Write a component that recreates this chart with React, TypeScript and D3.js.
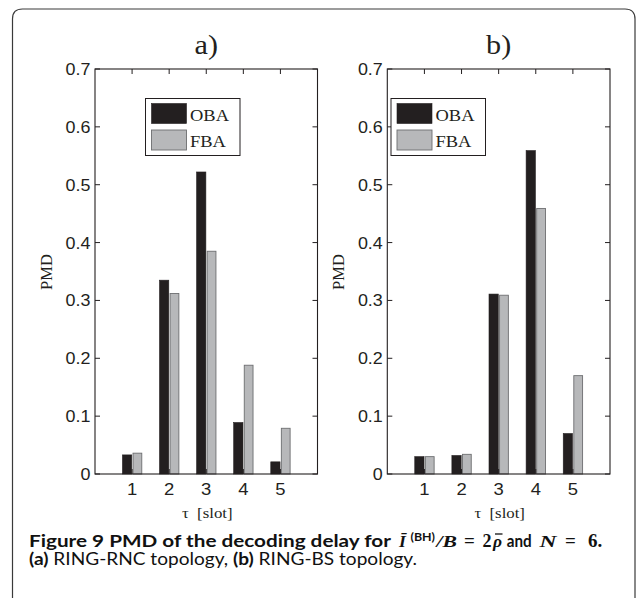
import React from "react";
import * as d3 from "d3";

const categories = [1, 2, 3, 4, 5];
const obaA = [0.033, 0.335, 0.522, 0.089, 0.021];
const fbaA = [0.036, 0.312, 0.385, 0.188, 0.079];
const obaB = [0.030, 0.032, 0.311, 0.559, 0.070];
const fbaB = [0.030, 0.034, 0.309, 0.459, 0.170];
const yTicks = [0, 0.1, 0.2, 0.3, 0.4, 0.5, 0.6, 0.7];
const yTickLabels = ["0", "0.1", "0.2", "0.3", "0.4", "0.5", "0.6", "0.7"];
const seriesNames = ["OBA", "FBA"];
const panelTitles = ["a)", "b)"];

const W = 637;
const H = 598;
const SX = 1.12;
const DARK = "#231f20";
const GREY = "#b7b8ba";
const GREY_STROKE = "#6d6e70";
const SERIF = "'Liberation Serif', 'Times New Roman', serif";
const SANS = "'Liberation Sans', Arial, sans-serif";
const CAP = "Lato, 'Open Sans', sans-serif";

function STxt(props: any) {
  const { x, y, anchor, size, family, children, weight, fill } = props;
  return (
    <text
      transform={`translate(${x},${y}) scale(${SX},1)`}
      textAnchor={anchor || "start"}
      fontSize={size}
      fontFamily={family}
      fontWeight={weight || "normal"}
      fill={fill || DARK}
      style={{ whiteSpace: "pre" }}
    >
      {children}
    </text>
  );
}

function Panel(props: any) {
  const { x0, x1, oba, fba, title, legendX, ylabelX } = props;
  const y0 = 69;
  const y1 = 474;
  const xs = d3.scaleLinear().domain([0, 6]).range([x0, x1]);
  const ys = d3.scaleLinear().domain([0, 0.7]).range([y1, y0]);
  const tl = 5;
  const bw = xs(0.25) - xs(0);
  const cx = (x0 + x1) / 2;
  return (
    <g>
      <STxt x={cx} y={53.5} anchor="middle" size={27} family={SERIF}>{title}</STxt>
      {categories.map((c, i) => (
        <g key={c}>
          <rect x={xs(c - 0.26)} y={ys(oba[i])} width={bw} height={ys(0) - ys(oba[i])} fill={DARK} stroke={DARK} strokeWidth={0.6} />
          <rect x={xs(c + 0.025)} y={ys(fba[i])} width={bw - 0.5} height={ys(0) - ys(fba[i])} fill={GREY} stroke={GREY_STROKE} strokeWidth={0.9} />
        </g>
      ))}
      <rect x={x0} y={y0} width={x1 - x0} height={y1 - y0} fill="none" stroke={DARK} strokeWidth={1.1} />
      {yTicks.map((t, i) => (
        <g key={t}>
          <line x1={x0} x2={x0 + tl} y1={ys(t)} y2={ys(t)} stroke={DARK} strokeWidth={1} />
          <line x1={x1} x2={x1 - tl} y1={ys(t)} y2={ys(t)} stroke={DARK} strokeWidth={1} />
          <STxt x={x0 - 4.5} y={ys(t) + 6} anchor="end" size={16} family={SANS}>{yTickLabels[i]}</STxt>
        </g>
      ))}
      {categories.map((c) => (
        <g key={c}>
          <line x1={xs(c)} x2={xs(c)} y1={y0} y2={y0 + tl} stroke={DARK} strokeWidth={1} />
          <line x1={xs(c)} x2={xs(c)} y1={y1} y2={y1 - tl} stroke={DARK} strokeWidth={1} />
          <STxt x={xs(c)} y={495} anchor="middle" size={16.5} family={SANS}>{String(c)}</STxt>
        </g>
      ))}
      <text
        transform={`translate(${ylabelX},272) rotate(-90)`}
        textAnchor="middle"
        fontSize={16.5}
        fontFamily={SERIF}
        fill={DARK}
      >
        PMD
      </text>
      <STxt x={cx + 1} y={518} anchor="middle" size={15} family={SERIF}>{"τ  [slot]"}</STxt>
      <g>
        <rect x={legendX} y={98.5} width={94.5} height={57} fill="#fff" stroke={DARK} strokeWidth={1} />
        <rect x={legendX + 6} y={103.5} width={35} height={20} fill={DARK} stroke={DARK} strokeWidth={0.6} />
        <rect x={legendX + 6} y={130} width={35} height={20} fill={GREY} stroke={GREY_STROKE} strokeWidth={0.9} />
        <STxt x={legendX + 44.5} y={120.5} size={16.5} family={SERIF}>{seriesNames[0]}</STxt>
        <STxt x={legendX + 44.5} y={146.5} size={16.5} family={SERIF}>{seriesNames[1]}</STxt>
      </g>
    </g>
  );
}

export default function App() {
  const framePath = `M12.5,${H} L12.5,19 Q12.5,9 22.5,9 L625,9 Q635,9 635,19 L635,${H}`;
  const bl = 546.5;
  const cap = "#111";
  return (
    <svg width={W} height={H} style={{ display: "block", position: "absolute", left: 0, top: 0 }}>
      <rect x={0} y={0} width={W} height={H} fill="#fff" />
      <path d={framePath} fill="none" stroke="#3a3a3a" strokeWidth={1.2} />
      <Panel x0={95} x1={317.5} oba={obaA} fba={fbaA} title={panelTitles[0]} legendX={145.5} ylabelX={51.7} />
      <Panel x0={387.3} x1={610} oba={obaB} fba={fbaB} title={panelTitles[1]} legendX={391} ylabelX={344.3} />
      <g fill={cap}>
        <text x={29} y={bl} fontSize={17} fontFamily={CAP} fontWeight="bold" textLength={362} lengthAdjust="spacingAndGlyphs">Figure 9 PMD of the decoding delay for</text>
        <text x={399} y={bl} fontSize={17.5} fontFamily={SERIF} fontStyle="italic" fontWeight="bold">Ī</text>
        <text x={410.5} y={bl - 6} fontSize={11.5} fontFamily={CAP} fontWeight="bold" textLength={24.5} lengthAdjust="spacingAndGlyphs">(BH)</text>
        <text x={436.5} y={bl} fontSize={17.5} fontFamily={SERIF} fontStyle="italic" fontWeight="bold" textLength={20.5} lengthAdjust="spacingAndGlyphs">/B</text>
        <text x={464} y={bl} fontSize={19} fontFamily={SERIF} fontWeight="bold">=</text>
        <text x={482.5} y={bl} fontSize={18} fontFamily={SERIF} fontWeight="bold">2</text>
        <text x={493} y={bl} fontSize={17.5} fontFamily={SERIF} fontStyle="italic" fontWeight="bold">ρ</text>
        <line x1={495} x2={502.5} y1={bl - 12.5} y2={bl - 12.5} stroke={cap} strokeWidth={1.3} />
        <text x={506.7} y={bl} fontSize={17} fontFamily={CAP} fontWeight="bold" textLength={25} lengthAdjust="spacingAndGlyphs">and</text>
        <text x={539.5} y={bl} fontSize={17.5} fontFamily={SERIF} fontStyle="italic" fontWeight="bold" textLength={17} lengthAdjust="spacingAndGlyphs">N</text>
        <text x={565} y={bl} fontSize={19} fontFamily={SERIF} fontWeight="bold">=</text>
        <text x={588} y={bl} fontSize={19} fontFamily={SERIF} fontWeight="bold">6.</text>
      </g>
      <text x={29} y={565} fontSize={16.5} fontFamily={CAP} fill={cap} textLength={388} lengthAdjust="spacingAndGlyphs">
        <tspan fontWeight="bold">(a)</tspan>
        <tspan> RING-RNC topology, </tspan>
        <tspan fontWeight="bold">(b)</tspan>
        <tspan> RING-BS topology.</tspan>
      </text>
    </svg>
  );
}
